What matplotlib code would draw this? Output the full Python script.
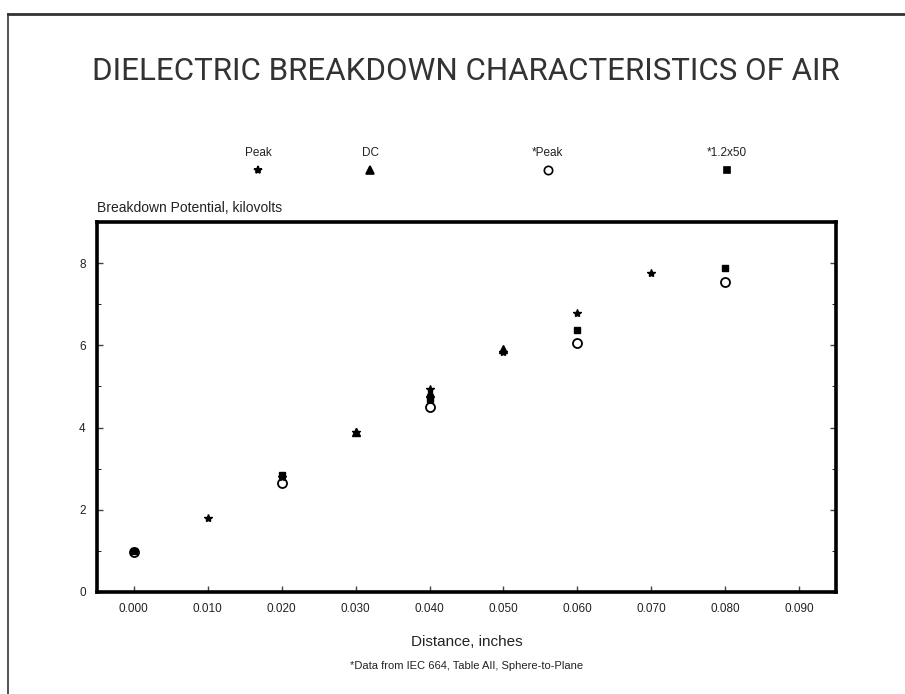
import matplotlib.pyplot as plt
from matplotlib.lines import Line2D
from matplotlib.ticker import MultipleLocator

# breakdown potential (kV) vs gap distance (inches)
peak_x = [0.000, 0.010, 0.020, 0.030, 0.040, 0.050, 0.060, 0.070]
peak_y = [1.00, 1.80, 2.80, 3.90, 4.95, 5.85, 6.80, 7.75]

dc_x = [0.030, 0.040, 0.050]
dc_y = [3.90, 4.85, 5.90]

iec_peak_x = [0.000, 0.020, 0.040, 0.060, 0.080]
iec_peak_y = [0.98, 2.65, 4.50, 6.05, 7.55]

iec_imp_x = [0.000, 0.020, 0.040, 0.060, 0.080]
iec_imp_y = [1.00, 2.85, 4.70, 6.37, 7.88]

x_ticks = [0.000, 0.010, 0.020, 0.030, 0.040, 0.050, 0.060, 0.070, 0.080, 0.090]
y_ticks = [0, 2, 4, 6, 8]

plt.rcParams["font.family"] = ["Liberation Sans", "DejaVu Sans"]

fig = plt.figure(figsize=(9.05, 6.94), dpi=100)
ax = fig.add_axes([0.107, 0.147, 0.817, 0.533])

# open circles first so the filled symbols sit on top of them
ax.plot(iec_peak_x, iec_peak_y, ls="none", marker="o", ms=6.5, mfc="white",
        mec="black", mew=1.3)
ax.plot(iec_imp_x, iec_imp_y, ls="none", marker="s", ms=5, color="black")
ax.plot(dc_x, dc_y, ls="none", marker="^", ms=6, color="black")
ax.plot(peak_x, peak_y, ls="none", marker="*", ms=6, color="black")

ax.set_xlim(-0.005, 0.095)
ax.set_ylim(0, 9)
ax.set_xticks(x_ticks)
ax.set_xticklabels([f"{v:.3f}" for v in x_ticks])
ax.set_yticks(y_ticks)
ax.yaxis.set_minor_locator(MultipleLocator(1))
ax.tick_params(direction="in", length=4, width=1, labelsize=8.5, color="#444444",
               labelcolor="#222222", top=False, right=True, pad=8)
ax.tick_params(which="minor", direction="in", length=3, right=True)
for s in ax.spines.values():
    s.set_linewidth(2.6)

ax.set_xlabel("Distance, inches", fontsize=11, color="#222222", labelpad=14)
fig.text(0.107, 0.700, "Breakdown Potential, kilovolts", fontsize=10,
         color="#222222", ha="left", va="center")
fig.text(0.515, 0.897, "DIELECTRIC BREAKDOWN CHARACTERISTICS OF AIR",
         fontsize=22.5, color="#333333", ha="center", va="center",
         family=["Roboto", "Liberation Sans"])
fig.text(0.515, 0.040, "*Data from IEC 664, Table AII, Sphere-to-Plane",
         fontsize=8, color="#222222", ha="center", va="center")

# legend laid out as labels above their symbols
legend_items = [("Peak", "*", "black", 0.285),
                ("DC", "^", "black", 0.409),
                ("*Peak", "o", "white", 0.605),
                ("*1.2x50", "s", "black", 0.803)]
for label, mk, fc, xf in legend_items:
    fig.text(xf, 0.780, label, fontsize=8.5, color="#222222", ha="center", va="center")
    fig.add_artist(Line2D([xf], [0.755], transform=fig.transFigure, ls="none",
                          marker=mk, ms=6 if mk != "s" else 5, mfc=fc, mec="black",
                          mew=1.2))

# page frame lines (top and left edges)
fig.add_artist(Line2D([0.009, 1.0], [0.980, 0.980], transform=fig.transFigure,
                      color="#333333", lw=2))
fig.add_artist(Line2D([0.009, 0.009], [0.0, 0.980], transform=fig.transFigure,
                      color="#333333", lw=1.2))

fig.savefig("out.png", dpi=100)
